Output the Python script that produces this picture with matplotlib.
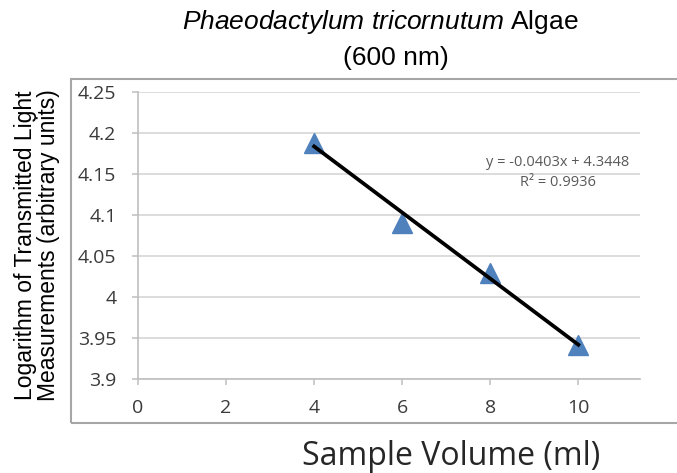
import numpy as np
import matplotlib.pyplot as plt
from matplotlib.patches import Rectangle

plt.rcParams["mathtext.fontset"] = "custom"
plt.rcParams["mathtext.it"] = "Liberation Sans:italic"
plt.rcParams["mathtext.rm"] = "Liberation Sans"

# sample volume (ml) vs log of transmitted light
volume = [4, 6, 8, 10]
log_light = [4.188, 4.090, 4.029, 3.941]

# trendline as reported on the chart
slope = -0.0403
intercept = 4.3448
r2 = 0.9936

xticks = [0, 2, 4, 6, 8, 10]
yticks = [3.9, 3.95, 4.0, 4.05, 4.1, 4.15, 4.2, 4.25]
ytick_labels = ["3.9", "3.95", "4", "4.05", "4.1", "4.15", "4.2", "4.25"]

W, H = 677, 473
fig = plt.figure(figsize=(W / 100, H / 100), dpi=100)
ax = fig.add_axes([138 / W, 1 - 379 / H, (640 - 138) / W, (379 - 92) / H])

# outer chart frame (right side runs off the picture)
fig.patches.append(Rectangle((71 / W, 1 - 423 / H), 0.98, (423 - 79) / H,
                             transform=fig.transFigure, fill=False,
                             edgecolor="#a6a6a6", linewidth=1.5))

ax.set_xlim(0, 11.4)
ax.set_ylim(3.9, 4.25)
ax.set_xticks(xticks)
ax.set_yticks(yticks)
ax.set_yticklabels(ytick_labels)

ax.yaxis.grid(True, color="#d9d9d9", linewidth=1.3)
ax.set_axisbelow(True)
for s in ["top", "right"]:
    ax.spines[s].set_visible(False)
for s in ["left", "bottom"]:
    ax.spines[s].set_color("#bfbfbf")
    ax.spines[s].set_linewidth(1.2)
ax.tick_params(axis="both", direction="out", length=4.5, width=1.1, color="#bfbfbf",
               labelsize=14, labelcolor="#3a3a3a")
ax.tick_params(axis="y", pad=11)
ax.tick_params(axis="x", pad=10)
for lab in ax.get_xticklabels() + ax.get_yticklabels():
    lab.set_fontfamily("Open Sans")

ax.plot(volume, log_light, linestyle="none", marker="^", markersize=14,
        color="#4f81bd", zorder=3)

xfit = np.array([volume[0], volume[-1]])
ax.plot(xfit, slope * xfit + intercept, color="black", linewidth=2.7, zorder=4)

fig.text(558 / W, 1 - 163 / H, f"y = {slope}x + {intercept}", fontsize=10.5,
         color="#595959", family="Open Sans", ha="center", va="center")
fig.text(558 / W, 1 - 182 / H, f"R² = {r2}", fontsize=10.5,
         color="#595959", family="Open Sans", ha="center", va="center")

fig.text(380 / W, 1 - 22 / H, r"$\it{Phaeodactylum\ tricornutum}$ Algae",
         ha="center", va="center", fontsize=19, family="Liberation Sans")
fig.text(396 / W, 1 - 58 / H, "(600 nm)", ha="center", va="center",
         fontsize=19, family="Liberation Sans")

fig.text(37 / W, 1 - 245 / H,
         "Logarithm of Transmitted Light\nMeasurements (arbitrary units)",
         rotation=90, ha="center", va="center", fontsize=16.5,
         family="Liberation Sans", linespacing=0.95)

fig.text(451 / W, 1 - 465 / H, "Sample Volume (ml)", ha="center", va="baseline",
         fontsize=23, family="Open Sans", color="#262626")

fig.savefig("out.png", dpi=100)
